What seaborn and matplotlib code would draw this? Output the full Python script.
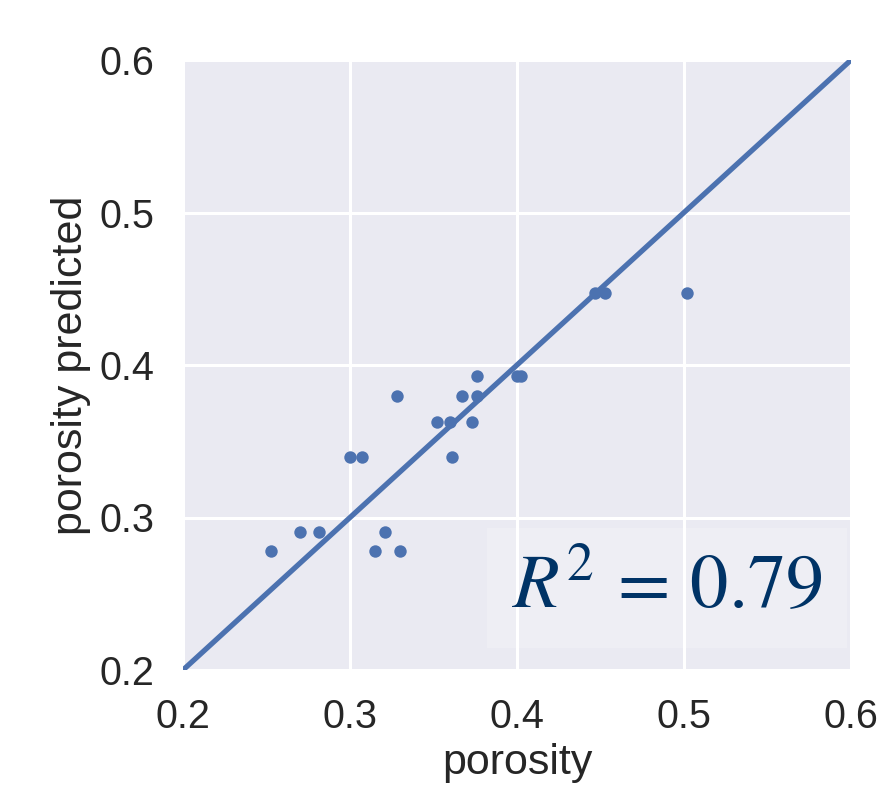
import matplotlib
matplotlib.use("Agg")
import matplotlib.pyplot as plt
import seaborn as sns
import pandas as pd

sns.set_theme(style="darkgrid")
plt.rcParams['font.family'] = ['Liberation Sans', 'DejaVu Sans']
plt.rcParams['mathtext.fontset'] = 'stix'

# measured vs predicted porosity
porosity = [0.2526, 0.2702, 0.2813, 0.3000, 0.3071, 0.3151, 0.3211, 0.3302,
            0.3282, 0.3521, 0.3598, 0.3612, 0.3670, 0.3730, 0.3760, 0.3760,
            0.4000, 0.4025, 0.4467, 0.4527, 0.5018]
predicted = [0.2781, 0.2902, 0.2902, 0.3397, 0.3397, 0.2781, 0.2902, 0.2781,
             0.3799, 0.3626, 0.3626, 0.3397, 0.3799, 0.3626, 0.3928, 0.3799,
             0.3928, 0.3928, 0.4472, 0.4472, 0.4472]
diag = [0.2, 0.6]
r2 = 0.79
ticks = [0.2, 0.3, 0.4, 0.5, 0.6]

df = pd.DataFrame({'porosity': porosity, 'porosity predicted': predicted})

fig = plt.figure(figsize=(8.84, 7.85), dpi=100)
ax = fig.add_axes([183 / 884, 115 / 785, 668 / 884, 610 / 785])

sns.scatterplot(data=df, x='porosity', y='porosity predicted', ax=ax,
                s=80, linewidth=0, color='#4C72B0', zorder=3)
ax.plot(diag, diag, color='#4C72B0', lw=3.8, zorder=4)

ax.set_xlim(0.2, 0.6)
ax.set_ylim(0.2, 0.6)
ax.set_xticks(ticks)
ax.set_yticks(ticks)
ax.set_xticklabels([f'{t:.1f}' for t in ticks])
ax.set_yticklabels([f'{t:.1f}' for t in ticks])
ax.tick_params(labelsize=28.5, colors='#262626')
ax.tick_params(axis='x', pad=14)
ax.tick_params(axis='y', pad=14.5)
ax.grid(color='white', linewidth=2.2)
ax.set_xlabel('porosity', fontsize=31, labelpad=5, color='#262626')
ax.set_ylabel('porosity predicted', fontsize=31, labelpad=6, color='#262626')

# R^2 annotation in a faint box, clipped at the right edge of the axes
ax.text(0.7246, 0.135, rf'$R^2\,=\,{r2:.2f}$', transform=ax.transAxes,
        ha='center', va='center', fontsize=55, color='#003366', zorder=5,
        bbox=dict(boxstyle='square,pad=0.32', facecolor='white', alpha=0.2,
                  edgecolor='none'), clip_on=True)

fig.savefig('out.png', dpi=100)
